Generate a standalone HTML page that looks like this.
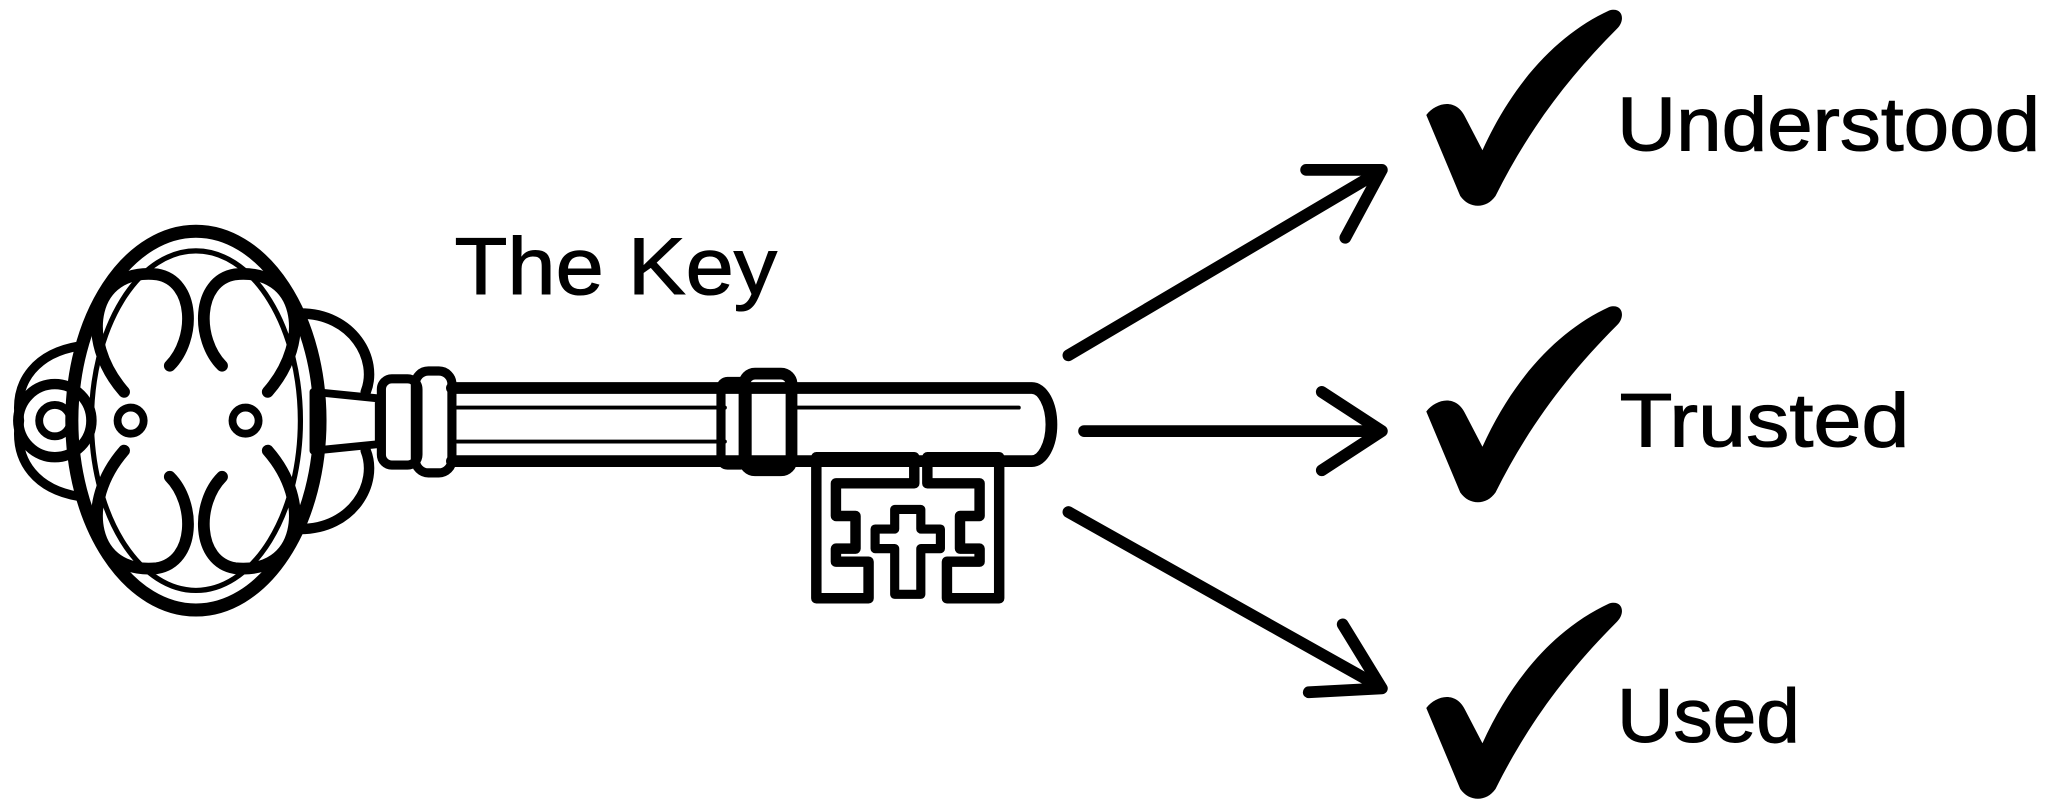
<!DOCTYPE html>
<html><head><meta charset="utf-8"><style>
html,body{margin:0;padding:0;background:#fff;}
svg{display:block;}
text{font-family:"Comic Sans MS","Liberation Sans",sans-serif;fill:#000;stroke:#000;stroke-width:0.8;}
</style></head><body>
<svg width="2048" height="806" viewBox="0 0 1568 617" xmlns="http://www.w3.org/2000/svg">
<rect width="1568" height="617" fill="#fff"/>
<text x="348" y="225" font-size="62" textLength="247" lengthAdjust="spacingAndGlyphs">The Key</text>
<text x="1238" y="115" font-size="58" textLength="324" lengthAdjust="spacingAndGlyphs">Understood</text>
<text x="1240" y="342" font-size="58" textLength="222" lengthAdjust="spacingAndGlyphs">Trusted</text>
<text x="1238" y="568" font-size="58" textLength="140" lengthAdjust="spacingAndGlyphs">Used</text>
<g fill="none" stroke="#000" stroke-linecap="round" stroke-linejoin="round">
 <!-- bow -->
 <ellipse cx="150" cy="322" rx="95" ry="145" stroke-width="10"/>
 <ellipse cx="150" cy="322" rx="80" ry="130" stroke-width="4"/>
 <path d="M95 300 C60 260 70 205 120 210 C150 215 150 260 130 280" stroke-width="9"/>
 <path d="M95 345 C60 385 70 440 120 435 C150 430 150 385 130 365" stroke-width="9"/>
 <path d="M205 300 C240 260 230 205 180 210 C150 215 150 260 170 280" stroke-width="9"/>
 <path d="M205 345 C240 385 230 440 180 435 C150 430 150 385 170 365" stroke-width="9"/>
 <circle cx="42" cy="322" r="28" stroke-width="8"/>
 <circle cx="42" cy="322" r="12" stroke-width="6"/>
 <path d="M15 322 C10 290 30 270 60 265 M15 322 C10 355 30 375 60 380" stroke-width="7"/>
 <circle cx="100" cy="322" r="10" stroke-width="6"/>
 <circle cx="188" cy="322" r="10" stroke-width="6"/>
 <path d="M230 240 C270 240 290 275 280 300 M230 405 C270 405 290 370 280 345" stroke-width="8"/>
 <path d="M240 300 L290 305 L290 340 L240 345 Z" stroke-width="6"/>
 <!-- shaft -->
 <rect x="292" y="290" width="28" height="66" rx="8" stroke-width="7"/>
 <rect x="318" y="284" width="28" height="78" rx="10" stroke-width="7"/>
 <path d="M346 297 L790 297 A15 28 0 0 1 790 353 L346 353" stroke-width="9"/>
 <line x1="350" y1="312" x2="555" y2="312" stroke-width="3"/>
 <line x1="350" y1="338" x2="555" y2="338" stroke-width="3"/>
 <line x1="605" y1="312" x2="780" y2="312" stroke-width="3"/>
 <rect x="552" y="292" width="20" height="64" rx="5" stroke-width="7"/>
 <rect x="570" y="286" width="36" height="74" rx="8" stroke-width="9"/>
 <!-- bit -->
 <path d="M625 350 L625 458 L665 458 L665 430 L640 430 L640 420 L655 420 L655 395 L640 395 L640 370 L700 370 L700 350 Z" stroke-width="8"/>
 <path d="M765 350 L765 458 L725 458 L725 430 L750 430 L750 420 L735 420 L735 395 L750 395 L750 370 L710 370 L710 350 Z" stroke-width="8"/>
 <path d="M685 390 L705 390 L705 405 L720 405 L720 420 L705 420 L705 455 L685 455 L685 420 L670 420 L670 405 L685 405 Z" stroke-width="7"/>
 <!-- arrows -->
 <g stroke-width="9">
  <line x1="818" y1="272" x2="1055" y2="132"/>
  <path d="M1000 130 L1058 130 L1030 182"/>
  <line x1="830" y1="330" x2="1055" y2="330"/>
  <path d="M1012 300 L1058 330 L1012 360"/>
  <line x1="818" y1="392" x2="1055" y2="525"/>
  <path d="M1028 478 L1058 527 L1002 530"/>
 </g>
</g>
<!-- checkmarks -->
<g fill="#000">
 <path d="M1092 88 C1100 78 1115 75 1122 90 L1135 115 C1160 60 1195 25 1232 8 C1242 5 1245 15 1238 22 C1200 60 1170 100 1145 150 C1138 160 1125 160 1118 150 Z"/>
 <path d="M1092 315 C1100 305 1115 302 1122 317 L1135 342 C1160 287 1195 252 1232 235 C1242 232 1245 242 1238 249 C1200 287 1170 327 1145 377 C1138 387 1125 387 1118 377 Z"/>
 <path d="M1092 542 C1100 532 1115 529 1122 544 L1135 569 C1160 514 1195 479 1232 462 C1242 459 1245 469 1238 476 C1200 514 1170 554 1145 604 C1138 614 1125 614 1118 604 Z"/>
</g>
</svg>
</body></html>
